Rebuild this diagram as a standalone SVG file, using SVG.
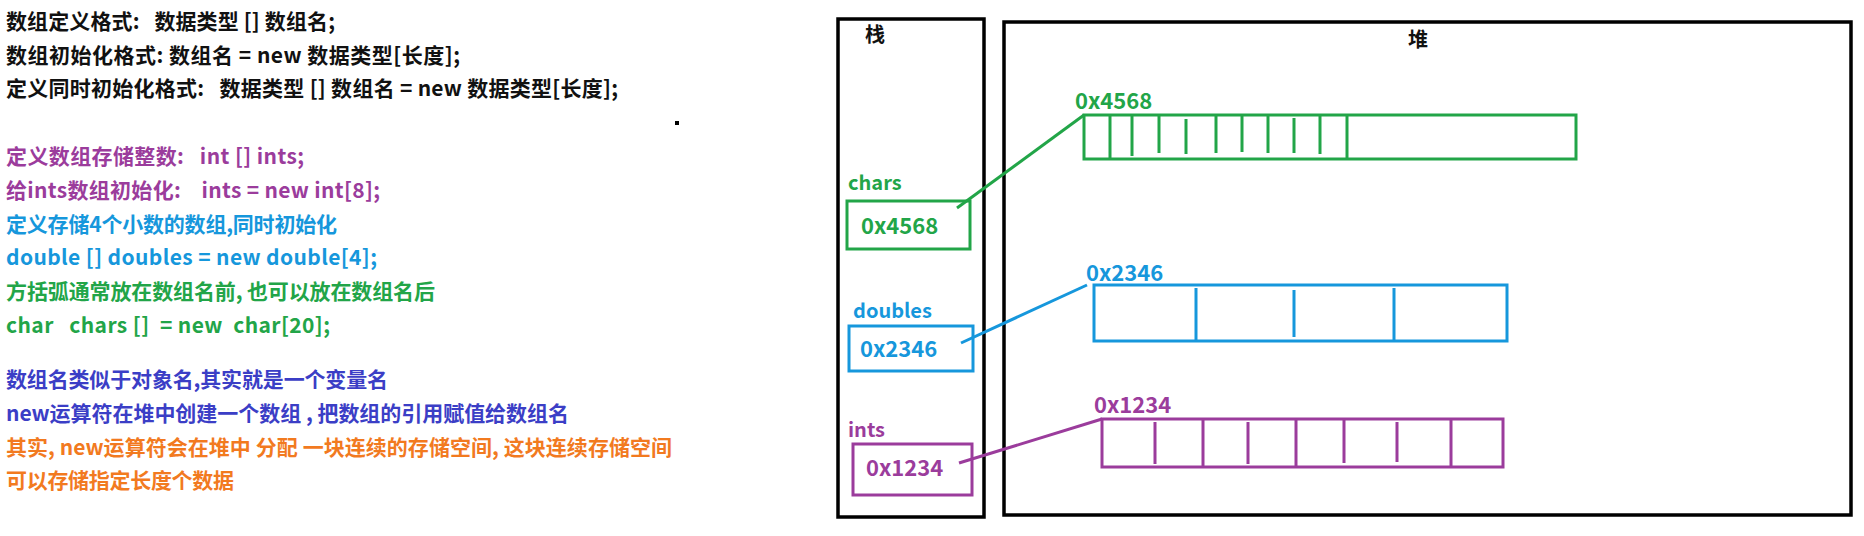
<svg xmlns="http://www.w3.org/2000/svg" width="1864" height="536" viewBox="0 0 1864 536">
<style>
text{font-family:"Noto Sans CJK SC","Noto Sans",sans-serif;font-weight:bold;white-space:pre}
.t{font-size:21px}
.k{fill:#111}
.pu{fill:#9b3c9c}
.bl{fill:#1697dc}
.gr{fill:#22a548}
.in{fill:#3b3ec6}
.or{fill:#f27a1f}
.lbl{font-size:20px}
.adr{font-size:22px}
.frame{fill:none;stroke:#000;stroke-width:3.5}
.sg{fill:none;stroke:#22a548;stroke-width:3}
.sb{fill:none;stroke:#1697dc;stroke-width:3}
.sp{fill:none;stroke:#9b3c9c;stroke-width:3}
</style>
<rect width="1864" height="536" fill="#fff"/>
<g id="notes">
<text class="t k" x="6" y="29" textLength="329" lengthAdjust="spacing">数组定义格式:   数据类型 [] 数组名;</text>
<text class="t k" x="6" y="63" textLength="454" lengthAdjust="spacing">数组初始化格式: 数组名 = new 数据类型[长度];</text>
<text class="t k" x="6" y="96" textLength="612" lengthAdjust="spacing">定义同时初始化格式:   数据类型 [] 数组名 = new 数据类型[长度];</text>
<rect x="675" y="121" width="4" height="4" fill="#000"/>
<text class="t pu" x="6" y="164" textLength="298" lengthAdjust="spacing">定义数组存储整数:   int [] ints;</text>
<text class="t pu" x="6" y="198" textLength="374" lengthAdjust="spacing">给ints数组初始化:    ints = new int[8];</text>
<text class="t bl" x="6" y="232" textLength="331" lengthAdjust="spacing">定义存储4个小数的数组,同时初始化</text>
<text class="t bl" x="6" y="265" textLength="371" lengthAdjust="spacing">double [] doubles = new double[4];</text>
<text class="t gr" x="6" y="299" textLength="429" lengthAdjust="spacing">方括弧通常放在数组名前, 也可以放在数组名后</text>
<text class="t gr" x="6" y="333" textLength="324" lengthAdjust="spacing">char   chars []  = new  char[20];</text>
<text class="t in" x="6" y="387" textLength="382" lengthAdjust="spacing">数组名类似于对象名,其实就是一个变量名</text>
<text class="t in" x="6" y="421" textLength="563" lengthAdjust="spacing">new运算符在堆中创建一个数组 , 把数组的引用赋值给数组名</text>
<text class="t or" x="6" y="455" textLength="666" lengthAdjust="spacing">其实, new运算符会在堆中 分配 一块连续的存储空间, 这块连续存储空间</text>
<text class="t or" x="6" y="488" textLength="228" lengthAdjust="spacing">可以存储指定长度个数据</text>
</g>
<g id="stack">
<rect class="frame" x="838" y="19" width="146" height="498"/>
<text class="lbl k" x="865" y="42">栈</text>
</g>
<g id="heap">
<rect class="frame" x="1004" y="22" width="847" height="493"/>
<text class="lbl k" x="1408" y="47">堆</text>
</g>
<g id="var-chars">
<text class="lbl gr" x="848" y="190">chars</text>
<rect class="sg" x="847" y="201" width="123" height="48"/>
<text class="adr gr" x="861" y="234">0x4568</text>
</g>
<g id="var-doubles">
<text class="lbl bl" x="853" y="318">doubles</text>
<rect class="sb" x="849" y="326" width="124" height="45"/>
<text class="adr bl" x="860" y="357">0x2346</text>
</g>
<g id="var-ints">
<text class="lbl pu" x="848" y="437">ints</text>
<rect class="sp" x="853" y="444" width="119" height="51"/>
<text class="adr pu" x="866" y="476">0x1234</text>
</g>
<g id="arr-chars">
<text class="adr gr" x="1075" y="109">0x4568</text>
<rect class="sg" x="1084" y="115" width="492" height="44"/>
<path class="sg" d="M1110 115V159M1132 115V156M1159 115V153M1186 119V154M1216 115V153M1242 116V152M1268 115V153M1294 118V153M1320 115V154M1347 115V159"/>
</g>
<g id="arr-doubles">
<text class="adr bl" x="1086" y="281">0x2346</text>
<rect class="sb" x="1094" y="285" width="413" height="56"/>
<path class="sb" d="M1196 288V341M1294 290V337M1394 288V341"/>
</g>
<g id="arr-ints">
<text class="adr pu" x="1094" y="413">0x1234</text>
<rect class="sp" x="1102" y="419" width="401" height="48"/>
<path class="sp" d="M1155 422V464M1203 419V467M1248 422V464M1296 419V467M1344 420V463M1397 422V462M1451 419V467"/>
</g>
<g id="connectors">
<path class="sg" d="M957 208L1084 115"/>
<path class="sb" d="M961 343L1087 285"/>
<path class="sp" d="M959 463L1102 419"/>
</g>
</svg>
